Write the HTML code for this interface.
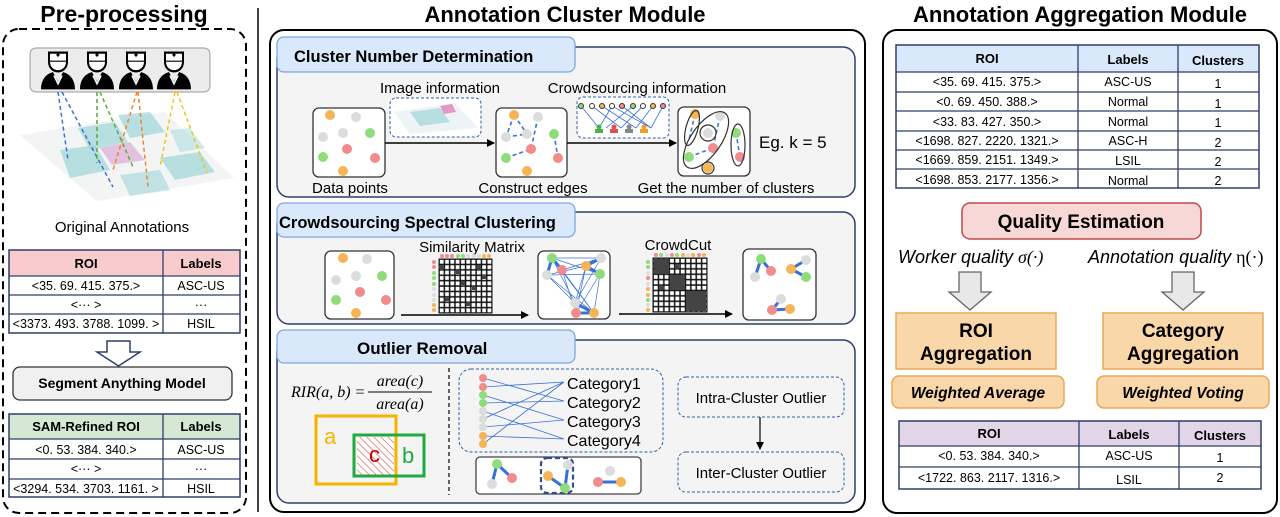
<!DOCTYPE html>
<html><head><meta charset="utf-8"><style>
html,body{margin:0;padding:0;background:#fff;}
svg{display:block;}
text{font-family:"Liberation Sans",sans-serif;}
.b{font-weight:bold;}
</style></head><body>
<svg width="1280" height="517" viewBox="0 0 1280 517" xmlns="http://www.w3.org/2000/svg">
<defs>
<marker id="ah" markerWidth="8" markerHeight="8" refX="7" refY="4" orient="auto" markerUnits="userSpaceOnUse"><path d="M0,0 L8,4 L0,8 z" fill="#000"/></marker>
<pattern id="grid1" x="439" y="259" width="5.3" height="5.4" patternUnits="userSpaceOnUse"><rect width="5.3" height="5.4" fill="#111"/><rect x="0.8" y="0.8" width="3.8" height="3.9" fill="#fff"/></pattern>
<pattern id="grid2" x="653" y="258" width="5.4" height="5.4" patternUnits="userSpaceOnUse"><rect width="5.4" height="5.4" fill="#111"/><rect x="0.8" y="0.8" width="3.9" height="3.9" fill="#fff"/></pattern>
<pattern id="hatch" width="5" height="5" patternUnits="userSpaceOnUse" patternTransform="rotate(-45)"><rect width="5" height="5" fill="#fff"/><line x1="0" y1="0" x2="0" y2="5" stroke="#e04848" stroke-width="1.2"/></pattern>
<g id="doc">
<path d="M-9,-16 L9,-16 L9,-8 L-9,-8 Z" fill="#fff" stroke="#000" stroke-width="2"/>
<path d="M-1.5,-14 h3 M0,-15.5 v3" stroke="#000" stroke-width="1.5"/>
<path d="M-9,-8 C-9,3 9,3 9,-8" fill="#fff" stroke="#000" stroke-width="2"/>
<path d="M-17,16 C-17,6 -10,2 -5,1 L0,9 L5,1 C10,2 17,6 17,16 Z" fill="#000"/>
<path d="M-4,4 L0,11 L4,4" fill="none" stroke="#fff" stroke-width="1.6"/>
</g>
</defs>

<!-- titles -->
<text x="124" y="22" font-size="23" class="b" text-anchor="middle">Pre-processing</text>
<text x="565" y="22" font-size="22" class="b" text-anchor="middle">Annotation Cluster Module</text>
<text x="1080" y="22" font-size="22" class="b" text-anchor="middle">Annotation Aggregation Module</text>
<line x1="258" y1="8" x2="258" y2="512" stroke="#000" stroke-width="1.5"/>

<!-- LEFT -->
<rect x="3" y="29" width="243" height="484" rx="16" fill="none" stroke="#000" stroke-width="2" stroke-dasharray="8,5"/>
<rect x="30" y="48" width="180" height="44" rx="6" fill="#ececec" stroke="#999" stroke-width="1"/>
<g transform="translate(58,71) scale(1,1.15)"><use href="#doc"/></g>
<g transform="translate(97,71) scale(1,1.15)"><use href="#doc"/></g>
<g transform="translate(136,71) scale(1,1.15)"><use href="#doc"/></g>
<g transform="translate(174,71) scale(1,1.15)"><use href="#doc"/></g>
<polygon points="20,135 165,112 234,178 97,201" fill="#f3f5f5"/>
<polygon points="78,128 115,122 128,142 90,150" fill="#8fd0d0" opacity="0.6"/>
<polygon points="118,115 150,112 165,132 130,138" fill="#8fcfd2" opacity="0.6"/>
<polygon points="60,150 95,145 110,170 70,178" fill="#8fd0d0" opacity="0.6"/>
<polygon points="100,148 130,142 145,160 112,165" fill="#d9a0d0" opacity="0.6"/>
<polygon points="160,158 200,152 215,172 175,180" fill="#8fd0d0" opacity="0.6"/>
<polygon points="120,175 160,170 170,190 130,196" fill="#8fd0d0" opacity="0.5"/>
<polygon points="170,130 190,128 205,148 180,152" fill="#8fd0d0" opacity="0.4"/>
<g stroke-width="1.5" stroke-dasharray="4,3" fill="none">
<path d="M58,92 L68,160 M62,92 L113,187" stroke="#3d6fd6"/>
<path d="M97,92 L97,163 M100,92 L133,167" stroke="#5aaa3a"/>
<path d="M137,92 L113,170 M138,92 L148,187" stroke="#f0842c"/>
<path d="M175,92 L160,167 M177,92 L207,173" stroke="#f5c218"/>
</g>
<text x="122" y="232" font-size="15" text-anchor="middle">Original Annotations</text>
<g font-size="12.5" text-anchor="middle">
<rect x="9" y="250" width="231" height="26" fill="#f8cccc"/>
<rect x="9" y="250" width="231" height="83" fill="none" stroke="#2e3f6b" stroke-width="1.5"/>
<path d="M163,250 V333 M9,276 H240 M9,295 H240 M9,314 H240" stroke="#2e3f6b" stroke-width="1.3"/>
<text x="86" y="268" class="b" font-size="13">ROI</text><text x="201" y="268" class="b" font-size="13">Labels</text>
<text x="86" y="290">&lt;35.  69. 415. 375.&gt;</text><text x="201" y="290">ASC-US</text>
<text x="86" y="309">&lt;··· &gt;</text><text x="201" y="309">···</text>
<text x="86" y="328">&lt;3373. 493. 3788. 1099. &gt;</text><text x="201" y="328">HSIL</text>
</g>
<path d="M107,341 H130 V352 H140 L118.5,366 L97,352 H107 Z" fill="#fff" stroke="#2e3f6b" stroke-width="1.5"/>
<rect x="13" y="367" width="219" height="33" rx="7" fill="#f0f0f0" stroke="#333" stroke-width="1.3"/>
<text x="122" y="388" font-size="14" class="b" text-anchor="middle">Segment Anything Model</text>
<g font-size="12.5" text-anchor="middle">
<rect x="9" y="414" width="231" height="25" fill="#d5e8d4"/>
<rect x="9" y="414" width="231" height="83" fill="none" stroke="#2e3f6b" stroke-width="1.5"/>
<path d="M163,414 V497 M9,439 H240 M9,459 H240 M9,479 H240" stroke="#2e3f6b" stroke-width="1.3"/>
<text x="86" y="431" class="b" font-size="13">SAM-Refined ROI</text><text x="201" y="431" class="b" font-size="13">Labels</text>
<text x="86" y="454">&lt;0.  53. 384. 340.&gt;</text><text x="201" y="454">ASC-US</text>
<text x="86" y="473">&lt;··· &gt;</text><text x="201" y="473">···</text>
<text x="86" y="493">&lt;3294. 534. 3703. 1161. &gt;</text><text x="201" y="493">HSIL</text>
</g>

<!-- MIDDLE -->
<rect x="270" y="30" width="595" height="482" rx="14" fill="#fff" stroke="#000" stroke-width="2"/>
<!-- section 1 -->
<rect x="277" y="47" width="578" height="150" rx="12" fill="#f4f4f4" stroke="#2e3f6b" stroke-width="1.5"/>
<rect x="277" y="37" width="298" height="35" rx="7" fill="#dae8fc" stroke="#7ea6e0" stroke-width="1.3"/>
<text x="294" y="62" font-size="16.5" class="b">Cluster Number Determination</text>
<rect x="313" y="108" width="72" height="69" rx="6" fill="#fff" stroke="#333" stroke-width="1.3"/>
<g>
<circle cx="330" cy="115" r="5" fill="#f5b455"/><circle cx="356" cy="117" r="5" fill="#dcdcdc"/><circle cx="323" cy="137" r="5" fill="#dcdcdc"/><circle cx="343" cy="133" r="5" fill="#dcdcdc"/><circle cx="370" cy="133" r="5" fill="#8fdc7a"/><circle cx="347" cy="149" r="5" fill="#f28b8b"/><circle cx="323" cy="157" r="5" fill="#8fdc7a"/><circle cx="375" cy="158" r="5" fill="#f28b8b"/><circle cx="343" cy="171" r="5" fill="#f5b455"/>
</g>
<text x="440" y="93" font-size="15" text-anchor="middle">Image information</text>
<rect x="390" y="98" width="91" height="39" rx="6" fill="#fff" stroke="#2e5fa8" stroke-width="1" stroke-dasharray="3,2"/>
<polygon points="394,112 455,103 478,128 410,134" fill="#eef4f6"/>
<polygon points="410,112 440,108 450,122 420,126" fill="#9fd4d8" opacity="0.7"/>
<polygon points="440,106 452,104 456,112 444,114" fill="#e070b0" opacity="0.7"/>
<line x1="385" y1="143" x2="494" y2="143" stroke="#000" stroke-width="1.5" marker-end="url(#ah)"/>
<rect x="496" y="108" width="71" height="69" rx="6" fill="#fff" stroke="#333" stroke-width="1.3"/>
<g stroke="#3a6fd8" stroke-width="1.6" stroke-dasharray="4,3" fill="none">
<path d="M514,115 L506,137 M506,137 L527,134 M514,115 L527,134 M538,117 L531,149 M506,158 L531,149 M554,134 L558,158"/>
</g>
<circle cx="514" cy="115" r="5" fill="#f5b455"/><circle cx="538" cy="117" r="5" fill="#dcdcdc"/><circle cx="506" cy="137" r="5" fill="#dcdcdc"/><circle cx="527" cy="134" r="5" fill="#dcdcdc"/><circle cx="554" cy="134" r="5" fill="#8fdc7a"/><circle cx="531" cy="149" r="5" fill="#f28b8b"/><circle cx="506" cy="158" r="5" fill="#8fdc7a"/><circle cx="558" cy="158" r="5" fill="#f28b8b"/><circle cx="527" cy="171" r="5" fill="#f5b455"/>
<text x="637" y="93" font-size="15" text-anchor="middle">Crowdsourcing information</text>
<rect x="577" y="97" width="92" height="41" rx="6" fill="#fff" stroke="#2e5fa8" stroke-width="1" stroke-dasharray="3,2"/>
<g stroke="#3a6fd8" stroke-width="0.8">
<path d="M581,106 L599,128 M592,106 L621,128 M602,106 L636,128 M612,106 L599,128 M622,106 L651,128 M633,106 L606,128 M643,106 L621,128 M653,106 L636,128 M663,106 L651,128 M612,106 L651,128"/>
</g>
<g stroke-width="1">
<circle cx="581" cy="106" r="2.5" fill="#8fdc7a" stroke="#333"/><circle cx="592" cy="106" r="2.5" fill="#fff" stroke="#333"/><circle cx="602" cy="106" r="2.5" fill="#f5b455" stroke="#333"/><circle cx="612" cy="106" r="2.5" fill="#fff" stroke="#333"/><circle cx="622" cy="106" r="2.5" fill="#f28b8b" stroke="#333"/><circle cx="633" cy="106" r="2.5" fill="#8fdc7a" stroke="#333"/><circle cx="643" cy="106" r="2.5" fill="#fff" stroke="#333"/><circle cx="653" cy="106" r="2.5" fill="#f5b455" stroke="#333"/><circle cx="663" cy="106" r="2.5" fill="#f28b8b" stroke="#333"/>
</g>
<g><circle cx="599" cy="127" r="2.5" fill="#4caf50"/><rect x="595" y="129" width="8" height="4" fill="#4caf50"/>
<circle cx="614" cy="127" r="2.5" fill="#e05050"/><rect x="610" y="129" width="8" height="4" fill="#e05050"/>
<circle cx="629" cy="127" r="2.5" fill="#888"/><rect x="625" y="129" width="8" height="4" fill="#888"/>
<circle cx="644" cy="127" r="2.5" fill="#f0a020"/><rect x="640" y="129" width="8" height="4" fill="#f0a020"/></g>
<line x1="567" y1="143" x2="676" y2="143" stroke="#000" stroke-width="1.5" marker-end="url(#ah)"/>
<rect x="678" y="107" width="72" height="69" rx="6" fill="#fff" stroke="#333" stroke-width="1.3"/>
<g stroke="#3a6fd8" stroke-width="1.5" stroke-dasharray="4,3" fill="none"><path d="M695,114 L689,140 M720,116 L713,148 M689,157 L713,148 M740,157 L736,133"/></g>
<circle cx="695" cy="114" r="5" fill="#f5b455"/><circle cx="720" cy="116" r="5" fill="#dcdcdc"/><circle cx="708" cy="133" r="5" fill="#dcdcdc"/><circle cx="736" cy="133" r="5" fill="#8fdc7a"/><circle cx="713" cy="148" r="5" fill="#f28b8b"/><circle cx="689" cy="157" r="5" fill="#8fdc7a"/><circle cx="740" cy="157" r="5" fill="#f28b8b"/><circle cx="708" cy="168" r="5" fill="#f5b455"/>
<g fill="none" stroke="#333" stroke-width="1.2">
<ellipse cx="692" cy="128" rx="6" ry="18" transform="rotate(15 692 128)"/>
<ellipse cx="706" cy="140" rx="15" ry="33" transform="rotate(35 706 140)"/>
<ellipse cx="708" cy="133" rx="8" ry="8"/>
<ellipse cx="738" cy="145" rx="7" ry="21"/>
<ellipse cx="708" cy="168" rx="6" ry="6"/>
</g>
<text x="759" y="148" font-size="17">Eg. k = 5</text>
<g font-size="15" text-anchor="middle">
<text x="350" y="193">Data points</text><text x="533" y="193">Construct edges</text><text x="726" y="193">Get the number of clusters</text>
</g>

<!-- section 2 -->
<rect x="277" y="212" width="578" height="112" rx="12" fill="#f4f4f4" stroke="#2e3f6b" stroke-width="1.5"/>
<rect x="277" y="203" width="298" height="34" rx="7" fill="#dae8fc" stroke="#7ea6e0" stroke-width="1.3"/>
<text x="279" y="228" font-size="16.5" class="b">Crowdsourcing Spectral Clustering</text>
<rect x="325" y="251" width="69" height="68" rx="6" fill="#fff" stroke="#333" stroke-width="1.3"/>
<circle cx="343" cy="258" r="5" fill="#f5b455"/><circle cx="367" cy="259" r="5" fill="#dcdcdc"/><circle cx="336" cy="280" r="5" fill="#dcdcdc"/><circle cx="356" cy="276" r="5" fill="#dcdcdc"/><circle cx="382" cy="276" r="5" fill="#8fdc7a"/><circle cx="360" cy="292" r="5" fill="#f28b8b"/><circle cx="336" cy="300" r="5" fill="#8fdc7a"/><circle cx="386" cy="300" r="5" fill="#f28b8b"/><circle cx="356" cy="313" r="5" fill="#f5b455"/>
<text x="472" y="252" font-size="15" text-anchor="middle">Similarity Matrix</text>
<rect x="439" y="259" width="53" height="54" fill="url(#grid1)" stroke="#111"/>
<g fill="#444"><rect x="440" y="265" width="4" height="4"/><rect x="456" y="270" width="4" height="4"/><rect x="461" y="281" width="4" height="4"/><rect x="472" y="286" width="4" height="4"/><rect x="445" y="297" width="4" height="4"/><rect x="482" y="275" width="4" height="4"/><rect x="466" y="302" width="4" height="4"/><rect x="477" y="265" width="4" height="4"/></g>
<g><circle cx="434" cy="262" r="2" fill="#f28b8b"/><circle cx="434" cy="267" r="2" fill="#f28b8b"/><circle cx="434" cy="273" r="2" fill="#8fdc7a"/><circle cx="434" cy="278" r="2" fill="#8fdc7a"/><circle cx="434" cy="284" r="2" fill="#8fdc7a"/><circle cx="434" cy="289" r="2" fill="#dcdcdc"/><circle cx="434" cy="295" r="2" fill="#dcdcdc"/><circle cx="434" cy="300" r="2" fill="#dcdcdc"/><circle cx="434" cy="305" r="2" fill="#f5b455"/><circle cx="434" cy="310" r="2" fill="#f5b455"/>
<circle cx="442" cy="256" r="2" fill="#f28b8b"/><circle cx="447" cy="256" r="2" fill="#f28b8b"/><circle cx="452" cy="256" r="2" fill="#f28b8b"/><circle cx="458" cy="256" r="2" fill="#8fdc7a"/><circle cx="463" cy="256" r="2" fill="#8fdc7a"/><circle cx="468" cy="256" r="2" fill="#dcdcdc"/><circle cx="474" cy="256" r="2" fill="#dcdcdc"/><circle cx="479" cy="256" r="2" fill="#dcdcdc"/><circle cx="484" cy="256" r="2" fill="#f5b455"/><circle cx="489" cy="256" r="2" fill="#f5b455"/></g>
<line x1="401" y1="315" x2="528" y2="315" stroke="#000" stroke-width="1.5" marker-end="url(#ah)"/>
<rect x="538" y="251" width="72" height="68" rx="6" fill="#fff" stroke="#333" stroke-width="1.3"/>
<g stroke="#3a6fd8" stroke-width="0.7" fill="none"><path d="M552,258 L575,303 M552,258 L594,313 M552,258 L601,258 M552,258 L600,274 M562,270 L576,313 M562,270 L601,258 M547,275 L594,313 M547,275 L600,274 M586,266 L576,313 M586,266 L547,275 M601,258 L575,303 M600,274 L576,313 M562,270 L594,313 M547,275 L575,303 M600,274 L594,313 M586,266 L575,303"/></g>
<g stroke="#3a6fd8" stroke-width="3" fill="none"><path d="M552,258 L562,270 M547,275 L552,258 M586,266 L601,258 M600,274 L586,266 M576,313 L594,313 M575,303 L594,313"/></g>
<circle cx="552" cy="258" r="5" fill="#8fdc7a"/><circle cx="562" cy="270" r="5" fill="#f28b8b"/><circle cx="547" cy="275" r="5" fill="#dcdcdc"/><circle cx="586" cy="266" r="5" fill="#f5b455"/><circle cx="601" cy="258" r="5" fill="#dcdcdc"/><circle cx="600" cy="274" r="5" fill="#8fdc7a"/><circle cx="575" cy="303" r="5" fill="#dcdcdc"/><circle cx="576" cy="313" r="5" fill="#f28b8b"/><circle cx="594" cy="313" r="5" fill="#f5b455"/>
<text x="678" y="250" font-size="15" text-anchor="middle">CrowdCut</text>
<rect x="653" y="258" width="54" height="54" fill="url(#grid2)" stroke="#111"/>
<g fill="#444"><rect x="654" y="259" width="15" height="15"/><rect x="670" y="275" width="15" height="15"/><rect x="686" y="291" width="20" height="20"/><rect x="675" y="264" width="4" height="4"/><rect x="659" y="286" width="4" height="4"/></g>
<g><circle cx="648" cy="262" r="2" fill="#8fdc7a"/><circle cx="648" cy="267" r="2" fill="#8fdc7a"/><circle cx="648" cy="273" r="2" fill="#dcdcdc"/><circle cx="648" cy="278" r="2" fill="#f28b8b"/><circle cx="648" cy="284" r="2" fill="#dcdcdc"/><circle cx="648" cy="289" r="2" fill="#f5b455"/><circle cx="648" cy="295" r="2" fill="#f5b455"/><circle cx="648" cy="300" r="2" fill="#8fdc7a"/><circle cx="648" cy="305" r="2" fill="#dcdcdc"/><circle cx="648" cy="310" r="2" fill="#f5b455"/>
<circle cx="656" cy="255" r="2" fill="#f28b8b"/><circle cx="661" cy="255" r="2" fill="#8fdc7a"/><circle cx="667" cy="255" r="2" fill="#dcdcdc"/><circle cx="672" cy="255" r="2" fill="#f28b8b"/><circle cx="677" cy="255" r="2" fill="#8fdc7a"/><circle cx="683" cy="255" r="2" fill="#f5b455"/><circle cx="688" cy="255" r="2" fill="#dcdcdc"/><circle cx="693" cy="255" r="2" fill="#f5b455"/><circle cx="699" cy="255" r="2" fill="#f28b8b"/><circle cx="704" cy="255" r="2" fill="#f5b455"/></g>
<line x1="619" y1="314" x2="732" y2="314" stroke="#000" stroke-width="1.5" marker-end="url(#ah)"/>
<rect x="743" y="249" width="73" height="71" rx="6" fill="#fff" stroke="#333" stroke-width="1.3"/>
<g stroke="#3a6fd8" stroke-width="3" fill="none"><path d="M761,259 L771,271 M761,259 L755,277 M806,260 L791,269 M791,269 L806,277 M781,299 L772,310 M772,310 L790,309"/></g>
<circle cx="761" cy="259" r="5" fill="#8fdc7a"/><circle cx="771" cy="271" r="5" fill="#f28b8b"/><circle cx="755" cy="277" r="5" fill="#dcdcdc"/><circle cx="791" cy="269" r="5" fill="#f5b455"/><circle cx="806" cy="260" r="5" fill="#dcdcdc"/><circle cx="806" cy="277" r="5" fill="#8fdc7a"/><circle cx="781" cy="299" r="5" fill="#dcdcdc"/><circle cx="772" cy="310" r="5" fill="#f28b8b"/><circle cx="790" cy="309" r="5" fill="#f5b455"/>

<!-- section 3 -->
<rect x="277" y="340" width="578" height="163" rx="12" fill="#f4f4f4" stroke="#2e3f6b" stroke-width="1.5"/>
<rect x="277" y="330" width="298" height="33" rx="7" fill="#dae8fc" stroke="#7ea6e0" stroke-width="1.3"/>
<text x="357" y="354" font-size="17" class="b">Outlier Removal</text>
<g font-style="italic" font-size="16">
<text x="291" y="397" style="font-family:'Liberation Serif',serif">RIR(a, b) =</text>
<text x="400" y="386" text-anchor="middle" style="font-family:'Liberation Serif',serif">area(c)</text>
<text x="400" y="409" text-anchor="middle" style="font-family:'Liberation Serif',serif">area(a)</text>
</g>
<line x1="368" y1="392" x2="432" y2="392" stroke="#000" stroke-width="1"/>
<rect x="357" y="437" width="37" height="38" fill="url(#hatch)"/>
<rect x="316" y="416" width="80" height="68" fill="none" stroke="#f5b400" stroke-width="3"/>
<rect x="354" y="435" width="70" height="41" fill="none" stroke="#1fab3f" stroke-width="3"/>
<text x="324" y="444" font-size="22" fill="#f5b400">a</text>
<text x="369" y="462" font-size="22" fill="#c00000">c</text>
<text x="402" y="463" font-size="22" fill="#1fab3f">b</text>
<line x1="449" y1="368" x2="449" y2="495" stroke="#000" stroke-width="1.2" stroke-dasharray="4,3"/>
<rect x="459" y="369" width="204" height="83" rx="12" fill="none" stroke="#2e5fa8" stroke-width="1" stroke-dasharray="3,2"/>
<g stroke="#3a6fd8" stroke-width="0.8"><path d="M483,378 L564,401 M483,387 L564,382 M483,395 L564,420 M483,403 L564,401 M483,411 L564,439 M483,419 L564,382 M483,427 L564,420 M483,436 L564,439 M483,444 L564,382"/></g>
<g><circle cx="483" cy="378" r="4" fill="#f28b8b"/><circle cx="483" cy="387" r="4" fill="#f28b8b"/><circle cx="483" cy="395" r="4" fill="#8fdc7a"/><circle cx="483" cy="403" r="4" fill="#8fdc7a"/><circle cx="483" cy="411" r="4" fill="#dcdcdc"/><circle cx="483" cy="419" r="4" fill="#dcdcdc"/><circle cx="483" cy="427" r="4" fill="#dcdcdc"/><circle cx="483" cy="436" r="4" fill="#f5b455"/><circle cx="483" cy="444" r="4" fill="#f5b455"/></g>
<g font-size="16"><text x="567" y="389">Category1</text><text x="567" y="408">Category2</text><text x="567" y="427">Category3</text><text x="567" y="446">Category4</text></g>
<rect x="476" y="457" width="165" height="37" rx="4" fill="#fff" stroke="#444" stroke-width="1.3"/>
<g stroke="#3a6fd8" stroke-width="3" fill="none"><path d="M497,464 L512,478 M497,464 L492,484 M568,465 L565,488 M548,476 L565,488 M598,482 L621,482"/></g>
<rect x="541" y="458" width="32" height="35" rx="6" fill="none" stroke="#2e4f8a" stroke-width="2.2" stroke-dasharray="5,3"/>
<circle cx="497" cy="464" r="5" fill="#8fdc7a"/><circle cx="512" cy="478" r="5" fill="#f28b8b"/><circle cx="492" cy="484" r="5" fill="#dcdcdc"/>
<circle cx="568" cy="465" r="5" fill="#dcdcdc"/><circle cx="548" cy="476" r="5" fill="#f5b455"/><circle cx="565" cy="488" r="5" fill="#8fdc7a"/>
<circle cx="610" cy="471" r="5" fill="#dcdcdc"/><circle cx="598" cy="482" r="5" fill="#f28b8b"/><circle cx="621" cy="482" r="5" fill="#f5b455"/>
<rect x="678" y="377" width="166" height="40" rx="8" fill="none" stroke="#2e5fa8" stroke-width="1" stroke-dasharray="3,2"/>
<text x="761" y="403" font-size="15" text-anchor="middle">Intra-Cluster Outlier</text>
<rect x="678" y="452" width="166" height="40" rx="8" fill="none" stroke="#2e5fa8" stroke-width="1" stroke-dasharray="3,2"/>
<text x="761" y="478" font-size="15" text-anchor="middle">Inter-Cluster Outlier</text>
<line x1="760" y1="417" x2="760" y2="449" stroke="#000" stroke-width="1.2" marker-end="url(#ah)"/>

<!-- RIGHT -->
<rect x="883" y="30" width="394" height="483" rx="14" fill="#fff" stroke="#000" stroke-width="2"/>
<g font-size="12.5" text-anchor="middle">
<rect x="896" y="45" width="363" height="27" fill="#dae8fc"/>
<rect x="896" y="45" width="363" height="143" fill="none" stroke="#2e3f6b" stroke-width="1.5"/>
<path d="M1078,45 V188 M1178,45 V188 M896,72 H1259 M896,92 H1259 M896,111 H1259 M896,131 H1259 M896,150 H1259 M896,169 H1259" stroke="#2e3f6b" stroke-width="1.3"/>
<text x="987" y="63" class="b" font-size="13">ROI</text><text x="1128" y="64" class="b" font-size="13">Labels</text><text x="1218" y="65" class="b" font-size="13">Clusters</text>
<text x="987" y="86">&lt;35. 69. 415. 375.&gt;</text><text x="1128" y="86">ASC-US</text><text x="1218" y="88">1</text>
<text x="987" y="106">&lt;0. 69. 450. 388.&gt;</text><text x="1128" y="106">Normal</text><text x="1218" y="108">1</text>
<text x="987" y="126">&lt;33. 83. 427. 350.&gt;</text><text x="1128" y="126">Normal</text><text x="1218" y="127">1</text>
<text x="987" y="145">&lt;1698. 827. 2220. 1321.&gt;</text><text x="1128" y="145">ASC-H</text><text x="1218" y="147">2</text>
<text x="987" y="164">&lt;1669. 859. 2151. 1349.&gt;</text><text x="1128" y="165">LSIL</text><text x="1218" y="166">2</text>
<text x="987" y="184">&lt;1698. 853. 2177. 1356.&gt;</text><text x="1128" y="185">Normal</text><text x="1218" y="185">2</text>
</g>
<rect x="962" y="203" width="239" height="36" rx="8" fill="#f8d7d7" stroke="#c04848" stroke-width="1.5"/>
<text x="1081" y="228" font-size="19" class="b" text-anchor="middle">Quality Estimation</text>
<text x="898" y="263" font-size="18" font-style="italic">Worker quality  <tspan font-family="Liberation Serif, serif">σ(·)</tspan></text>
<text x="1088" y="263" font-size="18" font-style="italic">Annotation quality <tspan font-family="Liberation Serif, serif" font-style="normal">η(·)</tspan></text>
<path d="M959,272 H981 V292 H991 L970,310 L949,292 H959 Z" fill="#e8e8e8" stroke="#666" stroke-width="1.3"/>
<path d="M1172,272 H1194 V292 H1204 L1183,310 L1162,292 H1172 Z" fill="#e8e8e8" stroke="#666" stroke-width="1.3"/>
<rect x="896" y="313" width="160" height="56" fill="#fad7a8" stroke="#e8a95a" stroke-width="1.5"/>
<text x="976" y="337" font-size="19" class="b" text-anchor="middle">ROI</text>
<text x="976" y="360" font-size="19" class="b" text-anchor="middle">Aggregation</text>
<rect x="1103" y="313" width="160" height="56" fill="#fad7a8" stroke="#e8a95a" stroke-width="1.5"/>
<text x="1183" y="337" font-size="19" class="b" text-anchor="middle">Category</text>
<text x="1183" y="360" font-size="19" class="b" text-anchor="middle">Aggregation</text>
<rect x="892" y="376" width="172" height="32" rx="7" fill="#fad7a8" stroke="#e8a95a" stroke-width="1.5"/>
<text x="978" y="398" font-size="15.5" class="b" font-style="italic" text-anchor="middle">Weighted Average</text>
<rect x="1097" y="376" width="172" height="32" rx="7" fill="#fad7a8" stroke="#e8a95a" stroke-width="1.5"/>
<text x="1183" y="398" font-size="15.5" class="b" font-style="italic" text-anchor="middle">Weighted Voting</text>
<g font-size="12.5" text-anchor="middle">
<rect x="899" y="421" width="362" height="25" fill="#e1d5e7"/>
<rect x="899" y="421" width="362" height="68" fill="none" stroke="#2e3f6b" stroke-width="1.5"/>
<path d="M1079,421 V489 M1179,421 V489 M899,446 H1261 M899,467 H1261" stroke="#2e3f6b" stroke-width="1.3"/>
<text x="989" y="438" class="b" font-size="13">ROI</text><text x="1129" y="439" class="b" font-size="13">Labels</text><text x="1220" y="440" class="b" font-size="13">Clusters</text>
<text x="989" y="460">&lt;0. 53. 384. 340.&gt;</text><text x="1129" y="460">ASC-US</text><text x="1220" y="462">1</text>
<text x="989" y="482">&lt;1722. 863. 2117. 1316.&gt;</text><text x="1129" y="484">LSIL</text><text x="1220" y="482">2</text>
</g>
</svg>
</body></html>
